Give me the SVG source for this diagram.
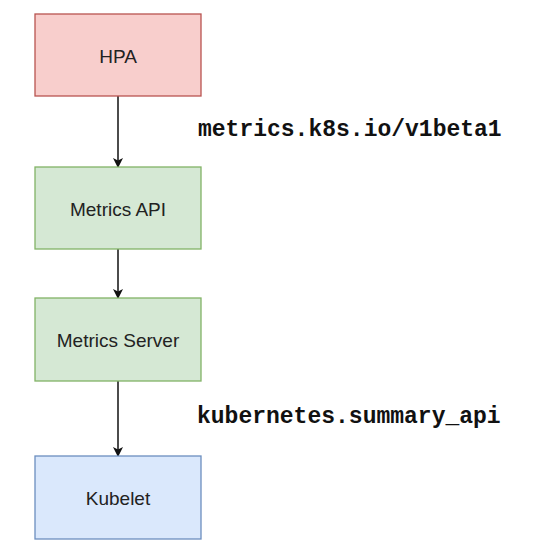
<svg xmlns="http://www.w3.org/2000/svg" width="543" height="552" viewBox="0 0 543 552">
<style>
.box{stroke-width:1.3}
.lbl{font-family:"Liberation Sans",Arial,sans-serif;font-size:19px;fill:#222;text-anchor:middle;dominant-baseline:central}
.mono{font-family:"Liberation Mono","Courier New",monospace;font-size:23px;font-weight:bold;fill:#111}
.edge{stroke:#111;stroke-width:1.5;fill:none;marker-end:url(#arr)}
</style>
<defs>
<marker id="arr" markerWidth="10" markerHeight="10" refX="9" refY="5" orient="auto" markerUnits="userSpaceOnUse">
<path d="M0,0 L10,5 L0,10 L2.5,5 Z" fill="#111"/>
</marker>
</defs>
<rect width="543" height="552" fill="#fff"/>
<g id="connectors">
<line class="edge" x1="118" y1="96" x2="118" y2="167"/>
<line class="edge" x1="118" y1="249" x2="118" y2="298"/>
<line class="edge" x1="118" y1="381" x2="118" y2="456"/>
</g>
<g id="hpa">
<rect class="box" x="35" y="14" width="166" height="82" fill="#f8cecc" stroke="#b85450"/>
<text class="lbl" x="118" y="56">HPA</text>
</g>
<g id="metrics-api">
<rect class="box" x="35" y="167" width="166" height="82" fill="#d5e8d4" stroke="#82b366"/>
<text class="lbl" x="118" y="209">Metrics API</text>
</g>
<g id="metrics-server">
<rect class="box" x="35" y="298" width="166" height="83" fill="#d5e8d4" stroke="#82b366"/>
<text class="lbl" x="118" y="340">Metrics Server</text>
</g>
<g id="kubelet">
<rect class="box" x="35" y="456" width="166" height="83" fill="#dae8fc" stroke="#6c8ebf"/>
<text class="lbl" x="118" y="498">Kubelet</text>
</g>
<g id="labels">
<text class="mono" x="198" y="136">metrics.k8s.io/v1beta1</text>
<text class="mono" x="197" y="423">kubernetes.summary_api</text>
</g>
</svg>
